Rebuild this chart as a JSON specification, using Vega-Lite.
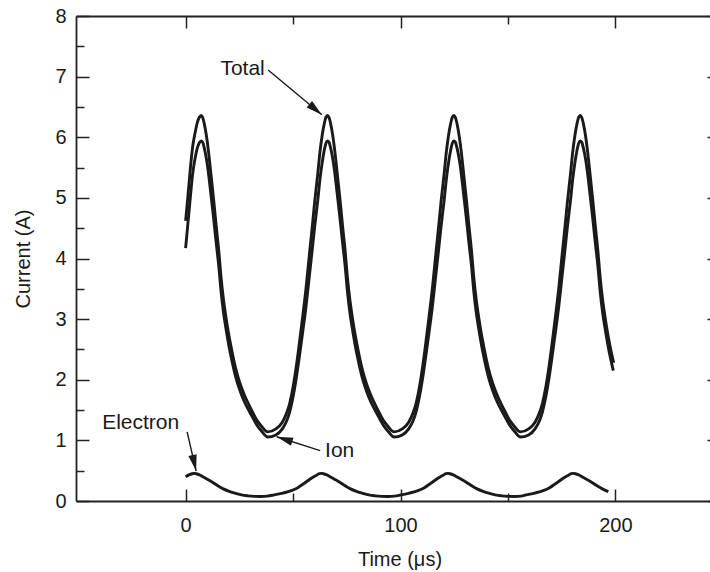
{
  "$schema": "https://vega.github.io/schema/vega-lite/v6.json",
  "width": 634,
  "height": 485,
  "autosize": {"type": "none"},
  "padding": {"left": 76, "top": 16, "right": 0, "bottom": 71},
  "background": "white",
  "config": {
    "view": {"stroke": null},
    "font": "Liberation Sans",
    "axis": {
      "grid": false,
      "domainColor": "#222222",
      "domainWidth": 1.8,
      "tickColor": "#222222",
      "tickWidth": 1.5,
      "labelFont": "Liberation Sans",
      "labelFontSize": 20,
      "labelColor": "#1a1a1a",
      "titleFont": "Liberation Sans",
      "titleFontSize": 20,
      "titleFontWeight": "normal",
      "titleColor": "#1a1a1a"
    }
  },
  "resolve": {"axis": {"x": "independent", "y": "independent"}},
  "layer": [
    {
      "data": {"values": [
        {"s":"Total","t":0,"v":4.62},{"s":"Total","t":1,"v":5.0},{"s":"Total","t":2.3,"v":5.52},{"s":"Total","t":3.3,"v":5.85},{"s":"Total","t":4.4,"v":6.07},{"s":"Total","t":5.5,"v":6.25},{"s":"Total","t":6.4,"v":6.33},{"s":"Total","t":7.2,"v":6.36},
        {"s":"Total","t":7.9,"v":6.33},{"s":"Total","t":8.7,"v":6.22},{"s":"Total","t":9.7,"v":6.02},{"s":"Total","t":10.7,"v":5.75},{"s":"Total","t":11.7,"v":5.42},{"s":"Total","t":13.1,"v":4.95},{"s":"Total","t":14.2,"v":4.55},{"s":"Total","t":15.5,"v":4.1},{"s":"Total","t":16.4,"v":3.72},{"s":"Total","t":17.7,"v":3.3},{"s":"Total","t":18.7,"v":3.05},{"s":"Total","t":20.2,"v":2.72},{"s":"Total","t":21.4,"v":2.5},{"s":"Total","t":23.2,"v":2.2},{"s":"Total","t":25.2,"v":1.95},{"s":"Total","t":27.2,"v":1.76},{"s":"Total","t":30.4,"v":1.52},{"s":"Total","t":33.2,"v":1.33},{"s":"Total","t":35.4,"v":1.23},{"s":"Total","t":38.2,"v":1.14},
        {"s":"Total","t":42.0,"v":1.19},{"s":"Total","t":45.0,"v":1.3},{"s":"Total","t":47.0,"v":1.45},{"s":"Total","t":48.5,"v":1.62},{"s":"Total","t":50.0,"v":1.88},{"s":"Total","t":51.5,"v":2.22},{"s":"Total","t":53.0,"v":2.62},{"s":"Total","t":54.5,"v":3.05},{"s":"Total","t":56.0,"v":3.5},{"s":"Total","t":57.7,"v":4.1},{"s":"Total","t":59.0,"v":4.55},{"s":"Total","t":60.1,"v":4.95},{"s":"Total","t":61.5,"v":5.4},{"s":"Total","t":62.5,"v":5.75},{"s":"Total","t":63.5,"v":6.02},{"s":"Total","t":64.5,"v":6.22},{"s":"Total","t":65.3,"v":6.33},{"s":"Total","t":66.0,"v":6.36},
        {"s":"Total","t":66.7,"v":6.33},{"s":"Total","t":67.5,"v":6.22},{"s":"Total","t":68.5,"v":6.02},{"s":"Total","t":69.5,"v":5.75},{"s":"Total","t":70.5,"v":5.42},{"s":"Total","t":71.9,"v":4.95},{"s":"Total","t":73.0,"v":4.55},{"s":"Total","t":74.3,"v":4.1},{"s":"Total","t":75.2,"v":3.72},{"s":"Total","t":76.5,"v":3.3},{"s":"Total","t":77.5,"v":3.05},{"s":"Total","t":79.0,"v":2.72},{"s":"Total","t":80.2,"v":2.5},{"s":"Total","t":82.0,"v":2.2},{"s":"Total","t":84.0,"v":1.95},{"s":"Total","t":86.0,"v":1.76},{"s":"Total","t":89.2,"v":1.52},{"s":"Total","t":92.0,"v":1.33},{"s":"Total","t":94.2,"v":1.23},{"s":"Total","t":97.0,"v":1.14},
        {"s":"Total","t":100.8,"v":1.19},{"s":"Total","t":103.8,"v":1.3},{"s":"Total","t":105.8,"v":1.45},{"s":"Total","t":107.3,"v":1.62},{"s":"Total","t":108.8,"v":1.88},{"s":"Total","t":110.3,"v":2.22},{"s":"Total","t":111.8,"v":2.62},{"s":"Total","t":113.3,"v":3.05},{"s":"Total","t":114.8,"v":3.5},{"s":"Total","t":116.5,"v":4.1},{"s":"Total","t":117.8,"v":4.55},{"s":"Total","t":118.9,"v":4.95},{"s":"Total","t":120.3,"v":5.4},{"s":"Total","t":121.3,"v":5.75},{"s":"Total","t":122.3,"v":6.02},{"s":"Total","t":123.3,"v":6.22},{"s":"Total","t":124.1,"v":6.33},{"s":"Total","t":124.8,"v":6.36},
        {"s":"Total","t":125.5,"v":6.33},{"s":"Total","t":126.3,"v":6.22},{"s":"Total","t":127.3,"v":6.02},{"s":"Total","t":128.3,"v":5.75},{"s":"Total","t":129.3,"v":5.42},{"s":"Total","t":130.7,"v":4.95},{"s":"Total","t":131.8,"v":4.55},{"s":"Total","t":133.1,"v":4.1},{"s":"Total","t":134.0,"v":3.72},{"s":"Total","t":135.3,"v":3.3},{"s":"Total","t":136.3,"v":3.05},{"s":"Total","t":137.8,"v":2.72},{"s":"Total","t":139.0,"v":2.5},{"s":"Total","t":140.8,"v":2.2},{"s":"Total","t":142.8,"v":1.95},{"s":"Total","t":144.8,"v":1.76},{"s":"Total","t":148.0,"v":1.52},{"s":"Total","t":150.8,"v":1.33},{"s":"Total","t":153.0,"v":1.23},{"s":"Total","t":155.8,"v":1.14},
        {"s":"Total","t":159.6,"v":1.19},{"s":"Total","t":162.6,"v":1.3},{"s":"Total","t":164.6,"v":1.45},{"s":"Total","t":166.1,"v":1.62},{"s":"Total","t":167.6,"v":1.88},{"s":"Total","t":169.1,"v":2.22},{"s":"Total","t":170.6,"v":2.62},{"s":"Total","t":172.1,"v":3.05},{"s":"Total","t":173.6,"v":3.5},{"s":"Total","t":175.3,"v":4.1},{"s":"Total","t":176.6,"v":4.55},{"s":"Total","t":177.7,"v":4.95},{"s":"Total","t":179.1,"v":5.4},{"s":"Total","t":180.1,"v":5.75},{"s":"Total","t":181.1,"v":6.02},{"s":"Total","t":182.1,"v":6.22},{"s":"Total","t":182.9,"v":6.33},{"s":"Total","t":183.6,"v":6.36},
        {"s":"Total","t":184.3,"v":6.33},{"s":"Total","t":185.1,"v":6.22},{"s":"Total","t":186.1,"v":6.02},{"s":"Total","t":187.1,"v":5.75},{"s":"Total","t":188.1,"v":5.42},{"s":"Total","t":189.5,"v":4.95},{"s":"Total","t":190.6,"v":4.55},{"s":"Total","t":191.9,"v":4.1},{"s":"Total","t":192.8,"v":3.72},{"s":"Total","t":194.1,"v":3.3},{"s":"Total","t":195.1,"v":3.05},{"s":"Total","t":196.6,"v":2.72},{"s":"Total","t":197.8,"v":2.5},{"s":"Total","t":199.2,"v":2.28},

        {"s":"Ion","t":0,"v":4.17},{"s":"Ion","t":1,"v":4.55},{"s":"Ion","t":2.3,"v":5.05},{"s":"Ion","t":3.3,"v":5.4},{"s":"Ion","t":4.4,"v":5.65},{"s":"Ion","t":5.5,"v":5.83},{"s":"Ion","t":6.4,"v":5.91},{"s":"Ion","t":7.2,"v":5.94},
        {"s":"Ion","t":7.9,"v":5.92},{"s":"Ion","t":8.7,"v":5.82},{"s":"Ion","t":9.7,"v":5.64},{"s":"Ion","t":10.7,"v":5.39},{"s":"Ion","t":11.7,"v":5.08},{"s":"Ion","t":13.1,"v":4.64},{"s":"Ion","t":14.2,"v":4.27},{"s":"Ion","t":15.5,"v":3.85},{"s":"Ion","t":16.4,"v":3.49},{"s":"Ion","t":17.7,"v":3.09},{"s":"Ion","t":18.7,"v":2.86},{"s":"Ion","t":20.2,"v":2.55},{"s":"Ion","t":21.4,"v":2.34},{"s":"Ion","t":23.2,"v":2.06},{"s":"Ion","t":25.2,"v":1.83},{"s":"Ion","t":27.2,"v":1.65},{"s":"Ion","t":30.4,"v":1.43},{"s":"Ion","t":33.2,"v":1.25},{"s":"Ion","t":35.4,"v":1.15},{"s":"Ion","t":38.2,"v":1.055},
        {"s":"Ion","t":42.0,"v":1.09},{"s":"Ion","t":45.0,"v":1.19},{"s":"Ion","t":47.0,"v":1.32},{"s":"Ion","t":48.5,"v":1.48},{"s":"Ion","t":50.0,"v":1.72},{"s":"Ion","t":51.5,"v":2.03},{"s":"Ion","t":53.0,"v":2.4},{"s":"Ion","t":54.5,"v":2.79},{"s":"Ion","t":56.0,"v":3.2},{"s":"Ion","t":57.7,"v":3.75},{"s":"Ion","t":59.0,"v":4.17},{"s":"Ion","t":60.1,"v":4.54},{"s":"Ion","t":61.5,"v":4.96},{"s":"Ion","t":62.5,"v":5.3},{"s":"Ion","t":63.5,"v":5.57},{"s":"Ion","t":64.5,"v":5.78},{"s":"Ion","t":65.3,"v":5.9},{"s":"Ion","t":66.0,"v":5.94},
        {"s":"Ion","t":66.7,"v":5.92},{"s":"Ion","t":67.5,"v":5.82},{"s":"Ion","t":68.5,"v":5.64},{"s":"Ion","t":69.5,"v":5.39},{"s":"Ion","t":70.5,"v":5.08},{"s":"Ion","t":71.9,"v":4.64},{"s":"Ion","t":73.0,"v":4.27},{"s":"Ion","t":74.3,"v":3.85},{"s":"Ion","t":75.2,"v":3.49},{"s":"Ion","t":76.5,"v":3.09},{"s":"Ion","t":77.5,"v":2.86},{"s":"Ion","t":79.0,"v":2.55},{"s":"Ion","t":80.2,"v":2.34},{"s":"Ion","t":82.0,"v":2.06},{"s":"Ion","t":84.0,"v":1.83},{"s":"Ion","t":86.0,"v":1.65},{"s":"Ion","t":89.2,"v":1.43},{"s":"Ion","t":92.0,"v":1.25},{"s":"Ion","t":94.2,"v":1.15},{"s":"Ion","t":97.0,"v":1.055},
        {"s":"Ion","t":100.8,"v":1.09},{"s":"Ion","t":103.8,"v":1.19},{"s":"Ion","t":105.8,"v":1.32},{"s":"Ion","t":107.3,"v":1.48},{"s":"Ion","t":108.8,"v":1.72},{"s":"Ion","t":110.3,"v":2.03},{"s":"Ion","t":111.8,"v":2.4},{"s":"Ion","t":113.3,"v":2.79},{"s":"Ion","t":114.8,"v":3.2},{"s":"Ion","t":116.5,"v":3.75},{"s":"Ion","t":117.8,"v":4.17},{"s":"Ion","t":118.9,"v":4.54},{"s":"Ion","t":120.3,"v":4.96},{"s":"Ion","t":121.3,"v":5.3},{"s":"Ion","t":122.3,"v":5.57},{"s":"Ion","t":123.3,"v":5.78},{"s":"Ion","t":124.1,"v":5.9},{"s":"Ion","t":124.8,"v":5.94},
        {"s":"Ion","t":125.5,"v":5.92},{"s":"Ion","t":126.3,"v":5.82},{"s":"Ion","t":127.3,"v":5.64},{"s":"Ion","t":128.3,"v":5.39},{"s":"Ion","t":129.3,"v":5.08},{"s":"Ion","t":130.7,"v":4.64},{"s":"Ion","t":131.8,"v":4.27},{"s":"Ion","t":133.1,"v":3.85},{"s":"Ion","t":134.0,"v":3.49},{"s":"Ion","t":135.3,"v":3.09},{"s":"Ion","t":136.3,"v":2.86},{"s":"Ion","t":137.8,"v":2.55},{"s":"Ion","t":139.0,"v":2.34},{"s":"Ion","t":140.8,"v":2.06},{"s":"Ion","t":142.8,"v":1.83},{"s":"Ion","t":144.8,"v":1.65},{"s":"Ion","t":148.0,"v":1.43},{"s":"Ion","t":150.8,"v":1.25},{"s":"Ion","t":153.0,"v":1.15},{"s":"Ion","t":155.8,"v":1.055},
        {"s":"Ion","t":159.6,"v":1.09},{"s":"Ion","t":162.6,"v":1.19},{"s":"Ion","t":164.6,"v":1.32},{"s":"Ion","t":166.1,"v":1.48},{"s":"Ion","t":167.6,"v":1.72},{"s":"Ion","t":169.1,"v":2.03},{"s":"Ion","t":170.6,"v":2.4},{"s":"Ion","t":172.1,"v":2.79},{"s":"Ion","t":173.6,"v":3.2},{"s":"Ion","t":175.3,"v":3.75},{"s":"Ion","t":176.6,"v":4.17},{"s":"Ion","t":177.7,"v":4.54},{"s":"Ion","t":179.1,"v":4.96},{"s":"Ion","t":180.1,"v":5.3},{"s":"Ion","t":181.1,"v":5.57},{"s":"Ion","t":182.1,"v":5.78},{"s":"Ion","t":182.9,"v":5.9},{"s":"Ion","t":183.6,"v":5.94},
        {"s":"Ion","t":184.3,"v":5.92},{"s":"Ion","t":185.1,"v":5.82},{"s":"Ion","t":186.1,"v":5.64},{"s":"Ion","t":187.1,"v":5.39},{"s":"Ion","t":188.1,"v":5.08},{"s":"Ion","t":189.5,"v":4.64},{"s":"Ion","t":190.6,"v":4.27},{"s":"Ion","t":191.9,"v":3.85},{"s":"Ion","t":192.8,"v":3.49},{"s":"Ion","t":194.1,"v":3.09},{"s":"Ion","t":195.1,"v":2.86},{"s":"Ion","t":196.6,"v":2.55},{"s":"Ion","t":197.8,"v":2.34},{"s":"Ion","t":199.0,"v":2.15},

        {"s":"Electron","t":0,"v":0.4},{"s":"Electron","t":1.5,"v":0.43},{"s":"Electron","t":3,"v":0.45},{"s":"Electron","t":4,"v":0.455},{"s":"Electron","t":5,"v":0.45},{"s":"Electron","t":6.5,"v":0.43},{"s":"Electron","t":8.5,"v":0.39},{"s":"Electron","t":10.5,"v":0.35},{"s":"Electron","t":12.5,"v":0.31},{"s":"Electron","t":15,"v":0.25},{"s":"Electron","t":17.5,"v":0.2},{"s":"Electron","t":20.3,"v":0.16},{"s":"Electron","t":23,"v":0.13},{"s":"Electron","t":26,"v":0.1},{"s":"Electron","t":29,"v":0.085},{"s":"Electron","t":32,"v":0.077},{"s":"Electron","t":35,"v":0.075},{"s":"Electron","t":38,"v":0.08},
        {"s":"Electron","t":41.2,"v":0.1},{"s":"Electron","t":45.2,"v":0.13},{"s":"Electron","t":49.2,"v":0.17},{"s":"Electron","t":52.2,"v":0.22},{"s":"Electron","t":54.7,"v":0.28},{"s":"Electron","t":56.7,"v":0.33},{"s":"Electron","t":58.7,"v":0.38},{"s":"Electron","t":60.7,"v":0.42},{"s":"Electron","t":62.2,"v":0.45},{"s":"Electron","t":63.2,"v":0.455},{"s":"Electron","t":64.2,"v":0.45},{"s":"Electron","t":65.7,"v":0.43},{"s":"Electron","t":67.7,"v":0.39},{"s":"Electron","t":69.7,"v":0.35},{"s":"Electron","t":71.7,"v":0.31},{"s":"Electron","t":74.2,"v":0.25},{"s":"Electron","t":76.7,"v":0.2},{"s":"Electron","t":79.5,"v":0.16},{"s":"Electron","t":82.2,"v":0.13},{"s":"Electron","t":85.2,"v":0.1},{"s":"Electron","t":88.2,"v":0.085},{"s":"Electron","t":91.2,"v":0.077},{"s":"Electron","t":94.2,"v":0.075},{"s":"Electron","t":97.2,"v":0.08},
        {"s":"Electron","t":100.1,"v":0.1},{"s":"Electron","t":104.1,"v":0.13},{"s":"Electron","t":108.1,"v":0.17},{"s":"Electron","t":111.1,"v":0.22},{"s":"Electron","t":113.6,"v":0.28},{"s":"Electron","t":115.6,"v":0.33},{"s":"Electron","t":117.6,"v":0.38},{"s":"Electron","t":119.6,"v":0.42},{"s":"Electron","t":121.1,"v":0.45},{"s":"Electron","t":122.1,"v":0.455},{"s":"Electron","t":123.1,"v":0.45},{"s":"Electron","t":124.6,"v":0.43},{"s":"Electron","t":126.6,"v":0.39},{"s":"Electron","t":128.6,"v":0.35},{"s":"Electron","t":130.6,"v":0.31},{"s":"Electron","t":133.1,"v":0.25},{"s":"Electron","t":135.6,"v":0.2},{"s":"Electron","t":138.4,"v":0.16},{"s":"Electron","t":141.1,"v":0.13},{"s":"Electron","t":144.1,"v":0.1},{"s":"Electron","t":147.1,"v":0.085},{"s":"Electron","t":150.1,"v":0.077},{"s":"Electron","t":153.1,"v":0.075},{"s":"Electron","t":156.1,"v":0.08},
        {"s":"Electron","t":158.4,"v":0.1},{"s":"Electron","t":162.4,"v":0.13},{"s":"Electron","t":166.4,"v":0.17},{"s":"Electron","t":169.4,"v":0.22},{"s":"Electron","t":171.9,"v":0.28},{"s":"Electron","t":173.9,"v":0.33},{"s":"Electron","t":175.9,"v":0.38},{"s":"Electron","t":177.9,"v":0.42},{"s":"Electron","t":179.4,"v":0.45},{"s":"Electron","t":180.4,"v":0.455},{"s":"Electron","t":181.4,"v":0.45},{"s":"Electron","t":182.9,"v":0.43},{"s":"Electron","t":184.9,"v":0.39},{"s":"Electron","t":186.9,"v":0.35},{"s":"Electron","t":188.9,"v":0.31},{"s":"Electron","t":191.4,"v":0.25},{"s":"Electron","t":193.9,"v":0.2},{"s":"Electron","t":196.7,"v":0.155}
      ]},
      "mark": {"type": "line", "color": "#1a1a1a", "strokeWidth": 2.9, "interpolate": "monotone", "strokeJoin": "round"},
      "encoding": {
        "x": {"field": "t", "type": "quantitative",
              "scale": {"domain": [-51, 244], "nice": false, "zero": false},
              "axis": {"orient": "bottom", "values": [0, 100, 200], "tickSize": -12, "labelPadding": 26, "title": "Time (μs)", "titlePadding": 14, "titleX": 323.5, "domain": true}},
        "y": {"field": "v", "type": "quantitative",
              "scale": {"domain": [0, 8], "nice": false, "zero": false},
              "axis": {"orient": "left", "values": [0,1,2,3,4,5,6,7,8], "tickSize": -13, "labelPadding": 23, "title": "Current (A)", "titlePadding": 21, "domain": true}},
        "detail": {"field": "s", "type": "nominal"},
        "order": {"field": "t", "type": "quantitative"}
      }
    },
    {
      "data": {"values": [
        {"label": "Total", "t1": 38.4, "v1": 7.11, "t2": 63.4, "v2": 6.37},
        {"label": "Ion", "t1": 62.6, "v1": 0.83, "t2": 42.4, "v2": 1.06},
        {"label": "Electron", "t1": 0.7, "v1": 1.14, "t2": 4.9, "v2": 0.495}
      ]},
      "mark": {"type": "rule", "color": "#1a1a1a", "strokeWidth": 1.4},
      "encoding": {
        "x": {"field": "t1", "type": "quantitative",
              "scale": {"domain": [-51, 244], "nice": false, "zero": false},
              "axis": {"orient": "bottom", "values": [50, 150], "tickSize": -8, "labels": false, "domain": false, "title": null}},
        "y": {"field": "v1", "type": "quantitative",
              "scale": {"domain": [0, 8], "nice": false, "zero": false},
              "axis": {"orient": "left", "values": [0.5,1.5,2.5,3.5,4.5,5.5,6.5,7.5], "tickSize": -8, "labels": false, "domain": false, "title": null}},
        "x2": {"field": "t2"},
        "y2": {"field": "v2"}
      }
    },
    {
      "data": {"values": [
        {"label": "Total", "t": 63.4, "v": 6.37, "dir": 129.9},
        {"label": "Ion", "t": 42.4, "v": 1.06, "dir": 287.9},
        {"label": "Electron", "t": 4.9, "v": 0.495, "dir": 167.1}
      ]},
      "mark": {"type": "point", "shape": "M0,0L0.62,2.4L-0.62,2.4Z", "filled": true, "color": "#1a1a1a", "opacity": 1, "size": 185, "strokeWidth": 0},
      "encoding": {
        "x": {"field": "t", "type": "quantitative",
              "scale": {"domain": [-51, 244], "nice": false, "zero": false},
              "axis": {"orient": "top", "values": [0, 100, 200], "tickSize": -12, "labels": false, "domain": true, "title": null}},
        "y": {"field": "v", "type": "quantitative",
              "scale": {"domain": [0, 8], "nice": false, "zero": false},
              "axis": {"orient": "right", "offset": 10, "values": [0,1,2,3,4,5,6,7,8], "tickSize": -13, "labels": false, "domain": true, "title": null}},
        "angle": {"field": "dir", "type": "quantitative", "scale": null}
      }
    },
    {
      "data": {"values": [
        {"label": "Total", "t": 26.5, "v": 7.12},
        {"label": "Ion", "t": 71.7, "v": 0.83},
        {"label": "Electron", "t": -20.9, "v": 1.29}
      ]},
      "mark": {"type": "text", "font": "Liberation Sans", "fontSize": 21, "color": "#1a1a1a", "align": "center", "baseline": "middle"},
      "encoding": {
        "x": {"field": "t", "type": "quantitative",
              "scale": {"domain": [-51, 244], "nice": false, "zero": false},
              "axis": {"orient": "top", "values": [50, 150], "tickSize": -8, "labels": false, "domain": false, "title": null}},
        "y": {"field": "v", "type": "quantitative",
              "scale": {"domain": [0, 8], "nice": false, "zero": false},
              "axis": null},
        "text": {"field": "label"}
      }
    }
  ]
}
